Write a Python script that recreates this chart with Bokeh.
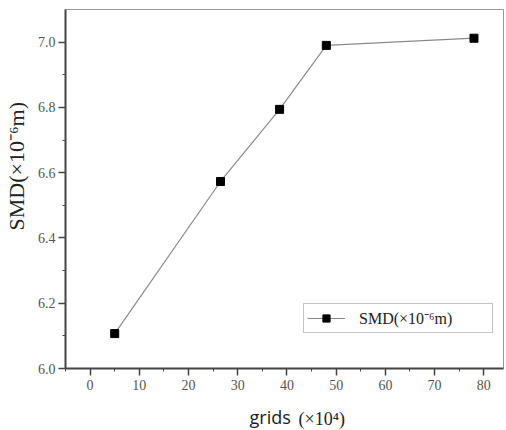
from bokeh.plotting import figure
from bokeh.models import Range1d, FixedTicker, Legend, LegendItem, Title
from bokeh.embed import file_html
from bokeh.resources import INLINE

grids = [5, 26.5, 38.5, 48, 78]
smd = [6.107, 6.573, 6.794, 6.99, 7.012]
x_ticks = [0, 10, 20, 30, 40, 50, 60, 70, 80]
y_ticks = [6.0, 6.2, 6.4, 6.6, 6.8, 7.0]
y_tick_labels = {6.0: "6.0", 6.2: "6.2", 6.4: "6.4", 6.6: "6.6", 6.8: "6.8", 7.0: "7.0"}
series_name = "SMD(×10⁻⁶m)"
x_name = "grids"
x_unit = "(×10⁴)"

p = figure(width=506, height=430, output_backend="svg", toolbar_location=None,
           x_range=Range1d(-5, 84), y_range=Range1d(6.0, 7.1),
           min_border_left=65, min_border_right=3, min_border_top=9, min_border_bottom=62)
p.xgrid.visible = False
p.ygrid.visible = False
p.outline_line_color = "#999999"
p.outline_line_width = 1

line = p.line(grids, smd, line_color="#8a8a8a", line_width=1.2)
pts = p.scatter(grids, smd, marker="square", size=8, fill_color="black", line_color="black")

for ax in (p.xaxis[0], p.yaxis[0]):
    ax.axis_line_width = 2
    ax.axis_line_color = "#444444"
    ax.major_tick_line_color = "#444444"
    ax.minor_tick_line_color = "#444444"
    ax.major_tick_line_width = 1.5
    ax.major_tick_out = 7
    ax.major_tick_in = 0
    ax.minor_tick_out = 3
    ax.minor_tick_in = 0
    ax.major_label_text_font = "Liberation Serif"
    ax.major_label_text_font_size = "14px"
    ax.major_label_text_color = "#555555"

p.xaxis.ticker = FixedTicker(ticks=x_ticks, minor_ticks=[-5, 5, 15, 25, 35, 45, 55, 65, 75])
p.yaxis.ticker = FixedTicker(ticks=y_ticks, minor_ticks=[6.1, 6.3, 6.5, 6.7, 6.9])
p.yaxis.major_label_overrides = y_tick_labels
p.xaxis.major_label_standoff = 4
p.yaxis.major_label_standoff = 3

# y label as a title on the left (allows shifting upward)
p.add_layout(Title(text=series_name, align="left", offset=138, vertical_align="top",
                   standoff=7, text_font="Liberation Serif", text_font_size="22px",
                   text_font_style="normal", text_color="#222222"), "left")

# x label: two pieces with different fonts (zero-height titles placed by standoff)
p.add_layout(Title(text=x_name, align="left", offset=184, vertical_align="bottom",
                   standoff=-73, text_font="Open Sans", text_font_size="18px",
                   text_font_style="normal", text_color="#1a1a1a"), "below")
p.add_layout(Title(text=x_unit, align="left", offset=233, vertical_align="bottom",
                   standoff=-72, text_font="Liberation Serif", text_font_size="18px",
                   text_font_style="normal", text_color="#222222"), "below")

legend = Legend(items=[LegendItem(label=series_name, renderers=[line, pts])],
                location=(238, 35))
legend.label_text_font = "Liberation Serif"
legend.label_text_font_size = "16px"
legend.label_text_color = "#222222"
legend.border_line_color = "#888888"
legend.border_line_width = 1
legend.padding = 3
legend.margin = 0
legend.glyph_width = 38
legend.glyph_height = 18
legend.label_height = 18
legend.label_standoff = 14
legend.label_width = 130
p.add_layout(legend)

open("out.html", "w").write(file_html(p, INLINE))
